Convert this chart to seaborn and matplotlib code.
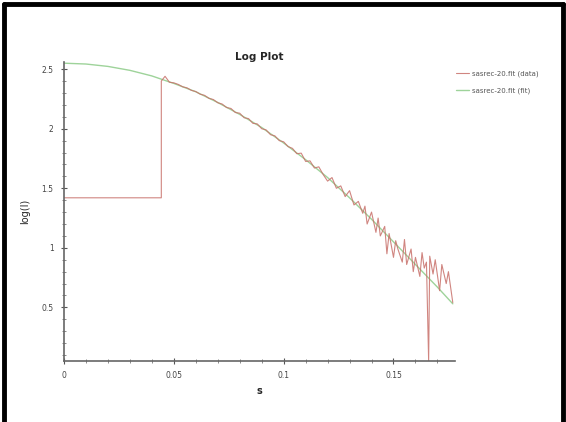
import numpy as np
import pandas as pd
import matplotlib
matplotlib.use("Agg")
import matplotlib.pyplot as plt
from matplotlib.lines import Line2D
from matplotlib.ticker import MultipleLocator, FixedLocator
import seaborn as sns

# fitted curve (s, log I)
fit_s = [0.0, 0.01, 0.02, 0.03, 0.04, 0.05, 0.06, 0.07, 0.08, 0.09, 0.10,
         0.11, 0.12, 0.13, 0.14, 0.15, 0.16, 0.17, 0.177]
fit_logI = [2.55, 2.543, 2.523, 2.49, 2.443, 2.38, 2.31, 2.22, 2.12, 2.01, 1.88,
            1.74, 1.59, 1.42, 1.24, 1.05, 0.86, 0.67, 0.53]

# measured data (s, log I)
data_s = [0.0, 0.0443, 0.0443, 0.046, 0.048, 0.050, 0.052, 0.054, 0.056, 0.058,
          0.060, 0.062, 0.064, 0.066, 0.068, 0.070, 0.072, 0.074, 0.076, 0.078,
          0.080, 0.082, 0.084, 0.086, 0.088, 0.090, 0.092, 0.094, 0.096, 0.098,
          0.100, 0.102, 0.104, 0.106, 0.108, 0.110, 0.112, 0.114, 0.116, 0.118,
          0.120, 0.122, 0.124, 0.126, 0.128, 0.130, 0.132, 0.134, 0.136, 0.137,
          0.138, 0.140, 0.142, 0.143, 0.144, 0.146, 0.147, 0.148, 0.150, 0.151,
          0.152, 0.154, 0.155, 0.156, 0.158, 0.159, 0.160, 0.162, 0.163, 0.164,
          0.165, 0.166, 0.1665, 0.168, 0.169, 0.171, 0.172, 0.174, 0.175, 0.177]
data_logI = [1.42, 1.42, 2.40, 2.44, 2.39, 2.385, 2.372, 2.352, 2.343, 2.322,
             2.312, 2.290, 2.280, 2.255, 2.245, 2.218, 2.207, 2.178, 2.170, 2.136,
             2.130, 2.092, 2.085, 2.045, 2.040, 2.000, 1.990, 1.950, 1.940, 1.900,
             1.890, 1.850, 1.835, 1.790, 1.795, 1.725, 1.730, 1.670, 1.680, 1.615,
             1.560, 1.590, 1.500, 1.520, 1.430, 1.480, 1.360, 1.390, 1.290, 1.350,
             1.200, 1.300, 1.130, 1.250, 1.100, 1.180, 0.950, 1.120, 0.920, 1.060,
             0.990, 0.880, 1.070, 0.860, 0.990, 0.800, 0.920, 0.760, 0.960, 0.830,
             0.880, 0.05, 0.930, 0.780, 0.900, 0.640, 0.860, 0.700, 0.800, 0.540]

labels = ["sasrec-20.fit (data)", "sasrec-20.fit (fit)"]

df_fit = pd.DataFrame({"s": fit_s, "logI": fit_logI})
df_data = pd.DataFrame({"s": data_s, "logI": data_logI})

sns.set_style("white")
fig = plt.figure(figsize=(5.66, 4.22), dpi=100)
ax = fig.add_axes([64 / 566, 1 - 361 / 422, (455 - 64) / 566, (361 - 62) / 422])

sns.lineplot(data=df_fit, x="s", y="logI", ax=ax, color="#9ed39a", lw=1.0,
             estimator=None, sort=False, label=labels[1])
sns.lineplot(data=df_data, x="s", y="logI", ax=ax, color="#c8706a", lw=0.8,
             alpha=0.85, estimator=None, sort=False, label=labels[0])

ax.set_xlim(0, 0.178)
ax.set_ylim(0.05, 2.56)
ax.xaxis.set_major_locator(FixedLocator([0, 0.05, 0.1, 0.15]))
ax.set_xticklabels(["0", "0.05", "0.1", "0.15"])
ax.xaxis.set_minor_locator(MultipleLocator(0.01))
ax.yaxis.set_major_locator(FixedLocator([0.5, 1, 1.5, 2, 2.5]))
ax.set_yticklabels(["0.5", "1", "1.5", "2", "2.5"])
ax.yaxis.set_minor_locator(MultipleLocator(0.1))
ax.tick_params(which="both", bottom=True, left=True)
ax.tick_params(which="major", direction="inout", length=5, width=0.8,
               color="#555555", labelsize=5.5, labelcolor="#444444", pad=5)
ax.tick_params(which="minor", direction="inout", length=3, width=0.6, color="#777777")
for side in ["top", "right"]:
    ax.spines[side].set_visible(False)
for side in ["left", "bottom"]:
    ax.spines[side].set_color("#666666")
    ax.spines[side].set_linewidth(1.2)

ax.set_title("Log Plot", fontsize=7.5, fontweight="bold", pad=1)
ax.set_xlabel("s", fontsize=7, fontweight="bold", labelpad=4)
ax.set_ylabel("log(I)", fontsize=7, labelpad=8)

handles, lbls = ax.get_legend_handles_labels()
order = [1, 0]
ax.legend([handles[i] for i in order], [lbls[i] for i in order],
          loc="upper left", bbox_to_anchor=(450 / 566, 1 - 64 / 422),
          bbox_transform=fig.transFigure, frameon=False, fontsize=5,
          handlelength=1.8, handletextpad=0.5, labelspacing=1.6,
          labelcolor="#555555")

# outer black frame
for xs, ys in [([4 / 566, 4 / 566], [0, 1 - 4 / 422]),
               ([4 / 566, 563 / 566], [1 - 4 / 422, 1 - 4 / 422]),
               ([563 / 566, 563 / 566], [0, 1 - 4 / 422])]:
    fig.add_artist(Line2D(xs, ys, transform=fig.transFigure, color="black", lw=3.5))

fig.savefig("out.png", dpi=100)
